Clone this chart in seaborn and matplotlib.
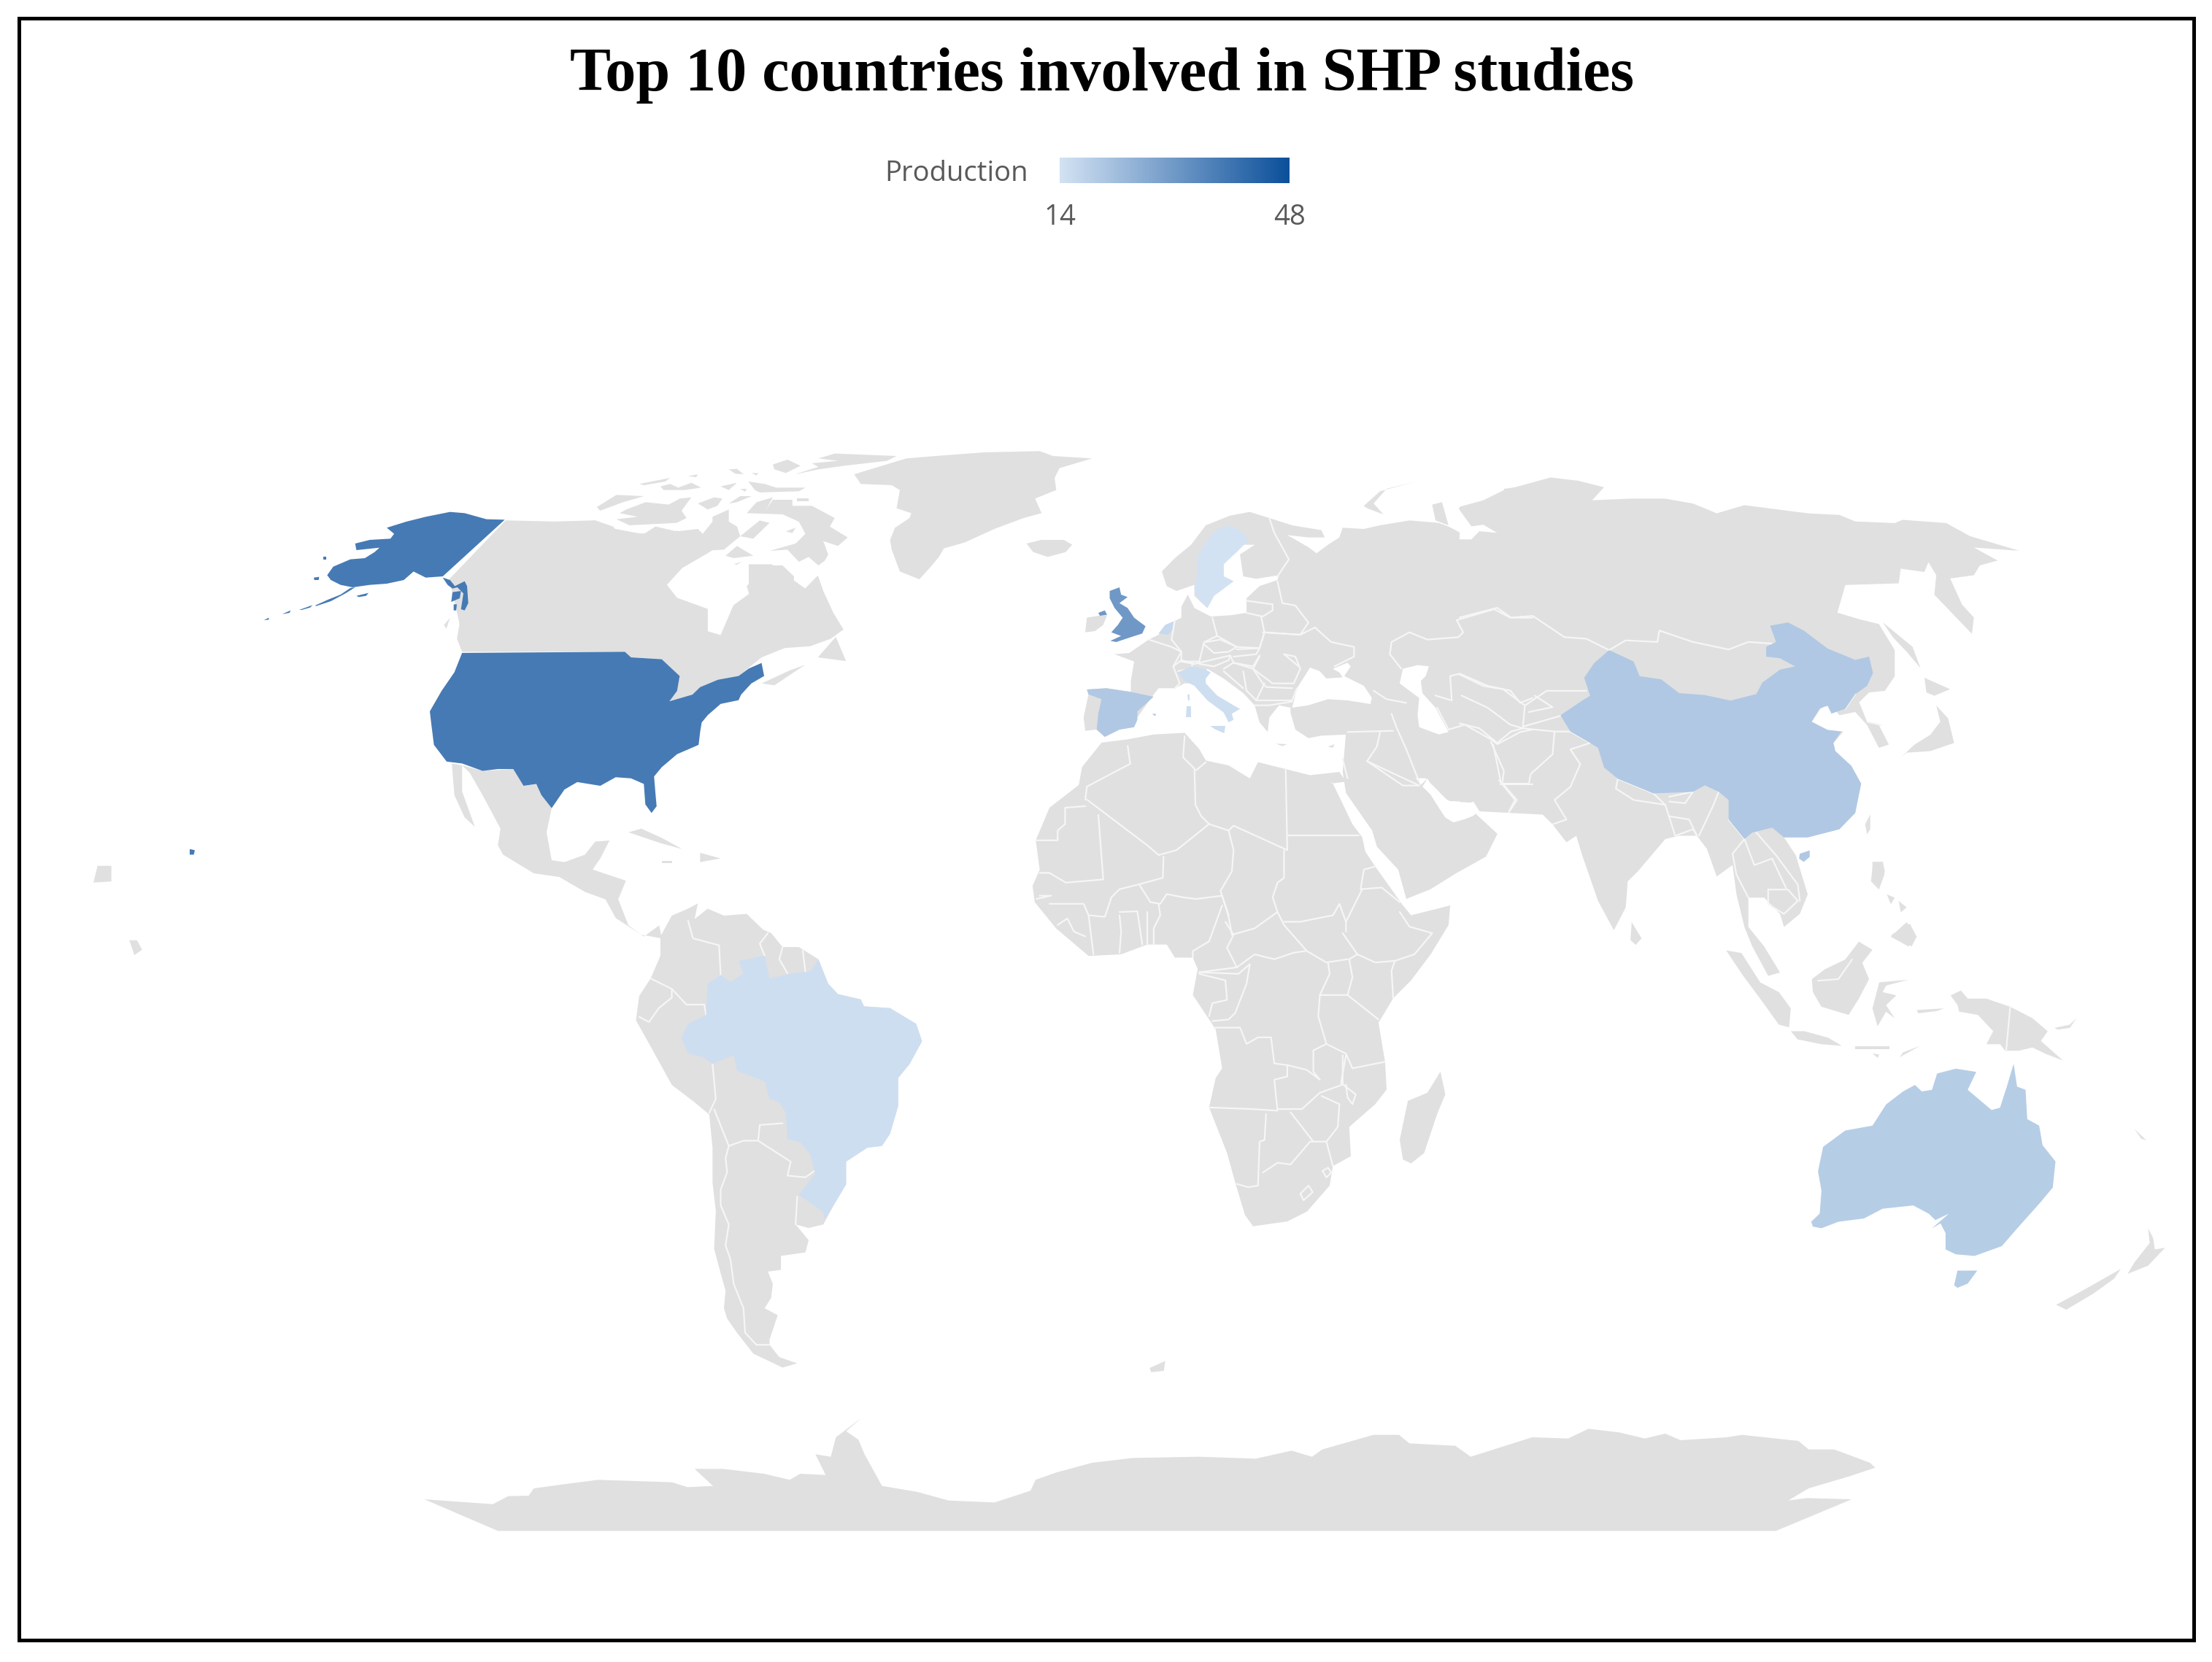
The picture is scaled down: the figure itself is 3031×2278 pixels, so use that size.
import numpy as np
import matplotlib
matplotlib.use("Agg")
import matplotlib.pyplot as plt
from matplotlib.colors import LinearSegmentedColormap, Normalize
from matplotlib.patches import Rectangle
import seaborn as sns

W, H = 3031, 2278
FR = {
    "O": (0, 0, 1568 / 3031, 1568 / 3031),
    "Z2": (100, 600, 1568 / 1100, 1568 / 800),
    "Z3": (1400, 650, 1568 / 700, 3.0),
    "Z4": (2000, 650, 1568 / 850, 1568 / 700),
    "Z5": (800, 1200, 1568 / 700, 1568 / 750),
    "Z6": (1380, 1000, 1568 / 700, 1568 / 700),
    "Z7": (2300, 1150, 1568 / 731, 1568 / 700),
    "Z8": (500, 1900, 1568 / 2200, 3.0),
    "ZA": (800, 600, 1568 / 700, 3.0),
    "ZB": (350, 680, 3.0, 3.0),
}

TITLE = "Top 10 countries involved in SHP studies"
LEGEND_TITLE = "Production"
VMIN, VMAX = 14, 48
PRODUCTION = {"USA": 38, "UK": 31, "Spain": 20, "China": 20, "Australia": 19,
              "Netherlands": 16, "Brazil": 15, "Italy": 15, "Sweden": 14}
LAND_COLOR = "#e0e0e0"

# ---------- land outlines ----------
CANADA = [(845,222),(940,225),(1020,222),(1060,245),(1110,258),(1180,250),(1250,270),(1290,265),(1240,310),(1190,350),(1160,395),(1180,430),(1240,460),(1240,520),(1265,530),(1290,450),(1320,420),(1320,340),(1365,340),(1400,375),(1430,405),(1455,370),(1465,410),(1485,470),(1505,515),(1480,540),(1440,560),(1390,565),(1345,590),(1300,640),(1260,650),(1210,690),(1165,708),(1180,680),(1185,640),(1150,595),(1090,590),(1078,575),(760,575),(750,540),(755,500),(735,380)]
CANADA_NORTH = [(0,345),(35,340),(90,365),(100,385),(185,395),(220,365),(285,385),(350,375),(365,395),(395,345),(395,325),(445,295),(445,345),(470,365),(480,405),(430,460),(300,470),(0,470)]
QUEBEC = [(540,525),(610,525),(645,570),(645,615),(680,620),(720,575),(740,655),(510,655),(500,610),(530,570)]
GREENLAND = [(830,150),(990,85),(1080,75),(1230,60),(1400,55),(1440,75),(1560,85),(1460,125),(1445,165),(1450,215),(1385,250),(1405,310),(1350,330),(1260,375),(1170,430),(1105,455),(1090,490),(1065,530),(1030,582),(970,550),(945,460),(940,420),(955,370),(1000,330),(1005,310),(960,290),(970,215),(945,195),(850,190)]
ARCTIC_ZA = [
    [(590,180),(650,150),(720,130),(800,115),(930,95),(960,75),(770,65),(720,85),(780,95),(700,105),(720,120),(660,145),(620,165)],
    [(580,110),(625,90),(665,115),(620,145),(585,130)],
    [(445,130),(470,128),(490,150),(465,148)],
    [(515,145),(535,145),(530,155)],
    [(320,158),(350,150),(345,162)],
    [(170,190),(265,165),(250,180),(185,195)],
    [(235,200),(265,190),(290,205),(330,185),(360,205),(310,215),(245,215)],
    [(420,200),(470,185),(445,215)],
    [(480,210),(500,210),(495,222)],
    [(505,180),(555,190),(590,205),(680,205),(660,220),(540,225),(525,215)],
    [(40,285),(100,235),(185,240),(120,265),(50,300)],
    [(130,295),(190,265),(260,275),(295,250),(330,245),(300,300),(315,330),(285,350),(140,360),(100,335),(165,325),(110,310)],
    [(350,270),(400,245),(425,250),(410,280),(380,295)],
    [(445,270),(480,240),(515,240),(470,265)],
    [(500,310),(530,265),(580,245),(560,295),(580,255),(640,255),(640,280),(700,280),(770,330),(755,365),(810,410),(780,445),(735,425),(750,480),(740,505),(720,525),(690,490),(660,510),(625,460),(570,465),(650,435),(680,395),(660,345),(610,315)],
    [(655,250),(690,250),(690,262),(655,262)],
    [(480,405),(540,340),(570,350),(520,415)],
    [(620,385),(650,370),(640,392)],
    [(435,485),(470,445),(520,485),(460,495)],
    [(460,520),(485,510),(470,522)],
]
OTHER_Z2 = [
    [(1345,660),(1400,625),(1430,610),(1370,665)],
    [(1455,590),(1490,535),(1510,600)],
    [(40,1195),(48,1150),(75,1150),(75,1192)],
    [(110,1350),(125,1350),(135,1375),(120,1390)],
    [(1085,1060),(1110,1050),(1150,1075),(1190,1105),(1150,1090)],
    [(1225,1115),(1265,1130),(1225,1140)],
    [(1150,1136),(1170,1136),(1170,1143),(1150,1143)],
]
VANCOUVER = [(775,530),(800,500),(785,545)]
KERGUELEN = [(815,970),(826,965),(825,972),(816,973)]
ICELAND = [(15,285),(60,270),(130,270),(155,290),(135,320),(80,340),(35,320)]
BAJA = [(740,875),(760,880),(760,950),(785,1045),(765,1020),(745,960)]
MEXICO_CA = [(760,880),(800,895),(860,890),(880,935),(905,930),(935,995),(925,1060),(935,1135),(960,1140),(1000,1120),(1020,1085),(1048,1082),(1030,1130),(1015,1160),(1080,1190),(1065,1240),(1085,1310),(1115,1340),(1145,1310),(1150,1345),(1110,1335),(1060,1290),(1040,1240),(1000,1220),(950,1180),(900,1170),(840,1120),(830,1095),(835,1050),(800,960),(775,900)]
SOUTH_AMERICA = [(235,175),(270,115),(320,95),(350,80),(340,125),(380,95),(430,115),(500,110),(550,155),(575,165),(610,205),(660,205),(720,240),(750,310),(780,340),(850,355),(860,375),(940,380),(1020,425),(1038,475),(1000,540),(965,580),(965,660),(940,740),(915,775),(870,780),(805,820),(805,885),(770,940),(735,1000),(690,1010),(650,1000),(690,1045),(680,1080),(605,1090),(605,1130),(565,1135),(580,1170),(575,1210),(555,1240),(595,1260),(570,1330),(570,1345),(600,1380),(655,1398),(610,1410),(520,1370),(470,1310),(440,1270),(430,1240),(435,1190),(420,1140),(400,1070),(405,960),(395,880),(395,780),(385,685),(340,650),(270,600),(205,490),(160,415),(170,345),(205,295),(235,230)]
AFRICA = [(290,40),(370,30),(450,15),(545,10),(590,60),(610,95),(680,110),(745,150),(770,100),(850,120),(930,140),(1020,130),(1040,160),(1000,165),(1060,290),(1090,330),(1100,375),(1130,420),(1180,490),(1215,540),(1240,570),(1360,540),(1355,600),(1300,690),(1240,770),(1185,825),(1140,900),(1160,1020),(1165,1105),(1130,1150),(1050,1220),(1055,1310),(1000,1340),(990,1400),(920,1480),(860,1510),(755,1525),(730,1490),(700,1390),(675,1300),(620,1160),(640,1070),(660,1040),(640,920),(570,815),(585,735),(570,700),(515,700),(490,660),(430,660),(350,690),(250,695),(150,610),(85,530),(78,480),(100,430),(88,340),(130,240),(220,170),(230,115)]
MADAGASCAR = [(1330,1050),(1345,1120),(1320,1180),(1280,1300),(1240,1332),(1215,1320),(1205,1260),(1230,1140),(1290,1115)]
ARABIA = [(1040,10),(1030,130),(1040,195),(1120,310),(1135,360),(1200,430),(1225,520),(1300,490),(1380,440),(1470,390),(1505,320),(1440,260),(1430,230),(1360,225),(1320,200),(1290,150),(1270,170),(1240,130),(1200,40),(1190,0)]
EUROPE_MAIN = [(430,400),(470,345),(520,290),(565,210),(640,170),(700,155),(760,180),(830,210),(920,230),(930,260),(880,260),(815,250),(880,300),(905,325),(940,290),(975,260),(985,220),(1050,225),(1100,210),(1190,190),(1280,200),(1310,215),(1360,250),(1340,265),(1380,260),(1400,220),(1460,240),(1490,210),(1568,210),(1568,1395),(1500,1390),(1410,1380),(1390,1345),(1310,1345),(1240,1250),(1200,1250),(1060,1200),(995,1170),(1000,1070),(920,1075),(880,1085),(840,1050),(825,980),(825,960),(790,950),(760,1000),(755,1060),(730,1020),(715,950),(680,900),(620,840),(570,800),(540,860),(500,860),(470,880),(420,880),(400,915),(355,1000),(345,1040),(300,1050),(255,1080),(230,1050),(195,1055),(190,1000),(205,905),(200,885),(260,880),(335,895),(335,850),(345,770),(285,740),(330,735),(390,680),(420,660),(460,610),(490,590),(490,545),(510,495),(530,550),(580,585),(640,580),(690,570),(690,510),(730,460),(785,435),(790,415),(720,430),(680,420),(670,330),(715,290),(670,290),(620,370),(620,420),(650,440),(590,500),(570,550),(530,500),(530,455),(475,480),(445,460)]
EUROPE_BITS = [
    [(1260,125),(1290,115),(1310,210),(1270,190)],
    [(1340,140),(1400,130),(1440,170),(1460,240),(1400,210),(1370,170)],
    [(1480,60),(1568,45),(1568,260),(1460,240),(1450,150),(1480,110)],
    [(1050,130),(1100,70),(1210,30),(1120,60),(1080,120),(1110,165),(1060,140)],
    [(195,650),(200,590),(235,582),(262,580),(250,620),(225,645)],
    [(940,1120),(960,1110),(955,1125)],
    [(780,1108),(815,1110),(800,1118)],
]
ASIA_MAIN = [(0,100),(60,80),(110,50),(230,10),(300,20),(365,40),(335,80),(430,75),(520,75),(590,90),(650,120),(720,95),(880,120),(960,125),(1000,145),(1100,150),(1120,140),(1230,150),(1290,190),(1415,235),(1300,225),(1360,265),(1315,280),(1300,310),(1240,320),(1270,400),(1300,440),(1295,490),(1200,370),(1205,310),(1185,270),(1175,300),(1115,290),(1110,335),(975,340),(955,425),(1010,445),(1060,460),(1100,540),(1100,620),(1075,665),(1035,670),(1010,700),(1030,760),(1060,770),(1085,830),(1060,840),(1030,770),(1000,730),(960,740),(940,710),(915,715),(890,760),(930,785),(970,790),(945,825),(945,850),(990,895),(1015,950),(1000,1040),(960,1090),(880,1115),(820,1115),(850,1170),(880,1290),(860,1350),(820,1390),(810,1350),(770,1300),(730,1300),(730,1390),(770,1450),(810,1530),(780,1540),(740,1450),(720,1390),(700,1290),(690,1200),(650,1235),(625,1150),(600,1110),(555,1110),(520,1120),(450,1220),(425,1250),(420,1330),(390,1400),(350,1310),(310,1170),(295,1110),(270,1130),(235,1075),(210,1045),(130,1040),(50,1035),(35,1005),(0,1020)]
ASIA_ISLANDS = [
    [(1025,1075),(1038,1045),(1038,1090),(1030,1105)],
    [(1070,455),(1145,530),(1165,595),(1130,545),(1095,500)],
    [(1175,625),(1240,660),(1200,680),(1180,670)],
    [(1205,710),(1235,750),(1250,825),(1190,850),(1130,855),(1115,870),(1140,905),(1115,870),(1150,830),(1190,800),(1215,760)],
    [(435,1375),(460,1425),(445,1445),(432,1430)],
    [(1045,1195),(1070,1190),(1075,1220),(1060,1275),(1040,1250)],
    [(1090,1420),(1130,1375),(1155,1420),(1135,1450)],
    [(1080,1290),(1100,1300),(1090,1320)],
    [(1110,1310),(1130,1330),(1115,1345)],
]
SE_ASIA_ISLANDS = [
    [(140,342),(185,350),(240,440),(295,470),(330,520),(325,578),(295,570),(240,490),(190,420)],
    [(392,430),(430,400),(490,370),(530,315),(570,340),(540,380),(560,430),(530,490),(500,540),(420,515),(395,470)],
    [(330,590),(370,590),(440,610),(480,635),(420,630),(350,615)],
    [(590,440),(675,432),(610,450),(600,470),(640,480),(610,510),(635,550),(610,530),(585,575),(570,520)],
    [(800,480),(830,465),(850,490),(905,490),(975,515),(1040,550),(1085,590),(1065,620),(1130,680),(1080,660),(1040,640),(1000,650),(960,650),(945,630),(905,630),(925,590),(880,540),(825,530),(820,510)],
    [(650,670),(710,635),(660,655)],
    [(520,636),(620,636),(620,644),(520,644)],
    [(570,658),(590,662),(585,672)],
    [(1105,580),(1150,570),(1170,550),(1150,580),(1115,585)],
    [(1380,1195),(1395,1225),(1400,1260),(1430,1255),(1380,1310),(1320,1335),(1340,1300),(1385,1240)],
    [(1110,1430),(1190,1385),(1300,1320),(1280,1350),(1220,1395),(1140,1445)],
    [(1340,890),(1375,925),(1360,920)],
    [(570,70),(600,70),(605,110),(590,150),(570,125)],
    [(625,295),(680,260),(700,300),(685,330),(660,310)],
    [(700,525),(780,520),(760,528),(705,535)],
]
ANTARCTICA = [(58,465),(125,485),(140,452),(160,450),(165,420),(200,400),(228,385),(300,395),(315,415),(340,410),(322,340),(350,340),(390,360),(415,385),(425,360),(450,365),(440,280),(455,290),(460,210),(485,130),(470,185),(482,220),(488,280),(505,410),(540,435),(570,470),(615,478),(650,430),(655,385),(675,355),(710,315),(750,295),(815,290),(870,298),(905,265),(925,290),(935,260),(985,200),(1010,200),(1020,235),(1065,245),(1080,290),(1140,210),(1175,215),(1195,175),(1225,190),(1250,215),(1270,195),(1285,222),(1330,210),(1345,200),(1400,225),(1410,260),(1435,260),(1470,315),(1475,335),(1450,370),(1410,420),(1390,470),(1408,460),(1452,465),(1378,595),(130,595)]

# ---------- inland seas ----------
BLACK_SEA = [(830,960),(845,880),(885,795),(915,810),(935,840),(985,835),(975,815),(955,800),(1000,775),(1010,790),(990,830),(1050,870),(1075,920),(1070,945),(1000,930),(940,925),(880,950)]
CASPIAN = [(1160,860),(1170,800),(1215,785),(1250,790),(1240,830),(1225,850),(1230,900),(1270,960),(1310,1060),(1280,1070),(1220,1040),(1215,990),(1220,920),(1180,880)]
GULF = [(1290,150),(1320,200),(1360,220),(1430,225),(1450,250),(1430,265),(1405,275),(1370,285),(1345,270),(1325,240),(1300,200),(1275,175)]
RED_SEA = [(990,160),(1000,165),(1060,290),(1090,330),(1100,375),(1130,420),(1180,490),(1215,540),(1225,520),(1200,430),(1135,360),(1120,310),(1040,195)]
OB_GULF = [(0,110),(30,160),(60,155),(95,180),(50,175),(30,200),(0,200)]

# ---------- highlighted countries ----------
USA_MAIN = [(760,578),(1078,575),(1090,590),(1150,595),(1185,640),(1180,680),(1165,708),(1210,690),(1225,670),(1260,650),(1300,640),(1320,620),(1345,605),(1350,640),(1325,660),(1305,690),(1300,705),(1265,715),(1240,745),(1228,765),(1225,790),(1222,825),(1180,850),(1150,885),(1135,910),(1138,960),(1140,990),(1130,1008),(1118,985),(1115,930),(1090,915),(1060,912),(1030,935),(985,925),(960,945),(935,995),(915,960),(905,930),(880,935),(860,890),(830,890),(800,895),(760,875),(730,870),(705,825),(700,770),(697,735),(720,680),(745,630)]
ALASKA = [(1025,97),(770,330),(700,335),(650,310),(610,345),(540,360),(470,365),(400,375),(350,365),(310,345),(295,325),(320,290),(390,260),(450,255),(490,230),(510,212),(415,222),(410,195),(470,180),(555,175),(570,155),(540,130),(620,105),(700,85),(800,65),(860,70),(950,95)]
ALASKA_BITS = [
    [(245,450),(300,425),(350,405),(390,378),(410,375),(370,400),(310,432),(250,452)],
    [(180,468),(235,448),(225,458),(190,468)],
    [(110,485),(145,470),(140,480)],
    [(35,510),(55,500),(55,508)],
    [(530,355),(610,305),(615,315),(560,350)],
    [(415,410),(465,398),(455,410),(425,415)],
    [(240,335),(262,332),(260,345),(242,345)],
    [(278,250),(292,250),(292,262),(280,262)],
    [(770,335),(800,345),(820,370),(860,350),(870,370),(875,440),(860,470),(845,465),(855,400),(830,375),(810,380),(790,365)],
    [(810,395),(845,390),(840,420),(805,435)],
    [(815,445),(828,445),(825,470),(815,470)],
]
HAWAII = [(228,1105),(238,1108),(236,1120),(228,1120)]
GB = [(270,480),(300,465),(305,495),(325,505),(300,530),(325,550),(345,590),(380,625),(370,655),(335,670),(290,690),(272,685),(305,665),(275,650),(295,620),(310,590),(285,550),(270,510)]
N_IRELAND = [(235,570),(255,560),(262,578),(240,582)]
SPAIN = [(200,885),(260,880),(335,895),(405,915),(355,975),(355,1010),(345,1040),(300,1050),(255,1080),(230,1050),(235,985),(245,925),(205,905)]
BALEARIC = [(400,985),(412,985),(410,995)]
NETHERLANDS = [(420,655),(440,620),(465,605),(462,640),(450,660)]
ITALY = [(480,815),(520,790),(560,800),(580,815),(565,840),(565,860),(600,910),(650,950),(670,965),(645,985),(650,1010),(635,1020),(620,980),(570,930),(530,870),(500,850)]
SARDINIA = [(507,955),(520,955),(520,1000),(505,1000)]
CORSICA = [(508,905),(516,905),(516,930),(510,930)]
SICILY = [(578,1035),(625,1035),(622,1065),(595,1050)]
SWEDEN = [(600,225),(640,210),(680,240),(695,270),(690,280),(660,320),(620,370),(620,420),(650,440),(625,465),(590,500),(570,550),(545,520),(530,470),(540,400),(540,340),(565,280)]
CHINA = [(378,540),(440,575),(455,620),(510,630),(555,672),(620,678),(685,695),(750,675),(765,640),(810,600),(848,590),(810,565),(775,560),(775,530),(800,515),(785,465),(830,455),(870,480),(930,535),(1000,570),(1035,560),(1045,610),(1030,650),(1000,675),(975,720),(940,735),(930,710),(910,720),(890,760),(930,785),(965,790),(945,825),(950,850),(990,895),(1015,950),(1000,1040),(960,1090),(880,1115),(820,1115),(790,1085),(740,1100),(720,1120),(680,1060),(680,1000),(655,975),(620,955),(590,975),(490,980),(400,935),(365,900),(350,840),(330,825),(280,790),(255,740),(310,695),(330,680),(315,625),(340,580)]
HAINAN = [(860,1165),(885,1155),(885,1175),(870,1190),(858,1180)]
BRAZIL = [(720,240),(750,310),(780,340),(850,355),(860,375),(940,380),(1020,425),(1038,475),(1000,540),(965,580),(965,660),(940,740),(915,775),(870,780),(805,820),(805,885),(770,940),(740,985),(735,965),(660,915),(710,855),(695,800),(665,765),(625,755),(620,680),(600,650),(570,640),(555,590),(470,560),(460,515),(395,540),(365,520),(320,510),(300,465),(320,425),(375,400),(380,310),(420,285),(450,305),(490,280),(475,245),(555,230),(570,295),(640,280),(695,275)]
AUSTRALIA = [(985,690),(995,760),(1020,770),(1025,860),(1060,880),(1070,940),(1108,990),(1100,1070),(1060,1120),(1000,1190),(950,1250),(870,1280),(815,1275),(785,1260),(785,1210),(770,1180),(745,1195),(795,1150),(755,1170),(735,1150),(690,1125),(600,1135),(545,1165),(470,1175),(420,1195),(395,1190),(390,1175),(415,1150),(420,1080),(410,1020),(425,945),(490,895),(570,880),(610,815),(660,775),(695,755),(715,775),(745,770),(760,720),(815,705),(875,715),(850,770),(920,832),(945,825),(965,760)]
TASMANIA = [(820,1325),(878,1325),(850,1365),(820,1378),(810,1370)]

COUNTRY_SHAPES = {
    "USA": [("Z2", USA_MAIN), ("ZB", ALASKA), ("Z2", HAWAII)] + [("ZB", p) for p in ALASKA_BITS],
    "UK": [("Z3", GB), ("Z3", N_IRELAND)],
    "Spain": [("Z3", SPAIN), ("Z3", BALEARIC)],
    "Netherlands": [("Z3", NETHERLANDS)],
    "Italy": [("Z3", ITALY), ("Z3", SARDINIA), ("Z3", CORSICA), ("Z3", SICILY)],
    "Sweden": [("Z3", SWEDEN)],
    "China": [("Z4", CHINA), ("Z4", HAINAN)],
    "Brazil": [("Z5", BRAZIL)],
    "Australia": [("Z7", AUSTRALIA), ("Z7", TASMANIA)],
}

# ---------- internal borders ----------
BORDERS_Z5 = [
    [(320,130),(335,180),(415,200),(420,285)], [(555,230),(540,195),(565,165)],
    [(610,205),(600,240),(625,280)], [(672,215),(680,275)],
    [(205,295),(270,325),(315,370),(370,370),(375,400)],
    [(270,325),(270,350),(230,380),(200,420),(170,405)],
    [(395,540),(405,640),(385,680)], [(400,670),(445,775)],
    [(445,775),(490,760),(535,760),(540,715),(610,710)],
    [(535,760),(635,820),(625,860),(680,865),(710,845)],
    [(445,775),(435,810),(440,850),(420,900),(420,945),(445,1000),(435,1060),(450,1100),(460,1170),(490,1240),(495,1310),(530,1345),(570,1345)],
    [(655,920),(650,1000)],
]
BORDERS_Z6 = [
    [(370,50),(378,105),(330,130),(245,175),(240,215)],
    [(240,235),(178,240),(178,290),(155,310),(155,340),(88,340)],
    [(245,215),(430,355),(465,385)],
    [(545,20),(540,85),(575,120),(578,230),(595,265),(620,290)], [(610,100),(580,125)],
    [(465,385),(520,370),(620,290)], [(620,290),(680,310),(695,295),(860,370),(855,120)],
    [(860,325),(1080,325)], [(280,262),(295,460),(180,470),(130,440),(100,440)],
    [(480,390),(478,455),(405,475),(345,490),(320,515),(300,575),(250,570),(235,535),(130,535)],
    [(405,475),(440,530),(470,535),(490,505),(540,515),(580,520),(660,510),(680,570)],
    [(680,310),(695,370),(690,435),(655,495),(680,575),(690,630),(760,610),(830,560),(815,515),(830,470),(850,455),(850,370)],
    [(660,540),(620,650),(570,680),(570,700)], [(670,590),(695,630),(675,670),(705,730),(590,745)],
    [(705,730),(760,690),(820,705),(880,685),(915,680)],
    [(830,560),(850,600),(920,680),(980,715),(1045,705)],
    [(850,590),(900,590),(1000,570),(1020,535),(1040,590),(1040,620)],
    [(1030,625),(1075,690),(1050,705)],
    [(1075,690),(1130,715),(1190,710),(1250,690),(1305,625),(1235,605),(1205,560)],
    [(1130,420),(1095,430),(1085,490),(1150,485),(1205,530)], [(1090,490),(1040,590)],
    [(1190,710),(1180,740),(1185,825)], [(1050,705),(1060,760),(1045,815),(1140,890)],
    [(985,715),(990,750),(960,815),(1045,815)],
    [(960,815),(955,880),(980,965),(1040,995),(1060,1040),(1160,1020)],
    [(980,965),(940,985),(940,1050),(960,1075),(920,1045),(860,1030),(820,1025),(810,945),(770,945),(735,965),(715,915),(635,915)],
    [(590,745),(710,750),(745,720),(735,780),(700,870),(680,890),(630,895)],
    [(590,750),(670,770),(675,830),(630,840),(620,880)],
    [(620,1160),(750,1165),(830,1170),(820,1075),(860,1065),(860,1030)],
    [(830,1165),(905,1165),(960,1115),(1030,1090),(1030,1000)],
    [(795,1180),(790,1260),(775,1265),(770,1400),(740,1405),(705,1395)],
    [(785,1360),(830,1330),(870,1335),(930,1265),(980,1265)], [(870,1175),(940,1265)],
    [(965,1125),(1020,1150),(1015,1220),(980,1265),(1000,1340)],
    [(1040,1000),(1025,1085),(1070,1120),(1060,1150),(1045,1130),(1040,1090)],
    [(900,1425),(925,1400),(938,1420),(910,1445),(900,1425)],
    [(968,1355),(985,1345),(995,1360),(980,1375),(968,1355)],
    [(250,570),(265,690)], [(345,570),(350,620),(345,685)], [(400,560),(415,660)],
    [(345,560),(400,558)], [(430,560),(430,660)], [(450,660),(450,610),(470,570),(465,535)],
    [(155,600),(185,580),(205,620),(240,635)], [(100,510),(135,510),(90,520)],
]
BORDERS_Z3 = [
    [(760,180),(775,240),(820,350),(785,420)], [(785,440),(800,530)], [(690,520),(770,535)],
    [(690,570),(740,585),(770,560),(770,535)], [(800,530),(840,540),(880,610),(855,660),(740,650)],
    [(585,590),(600,665),(660,710),(730,715),(745,650),(735,585)],
    [(470,600),(460,680),(490,730),(490,770),(545,770),(560,690),(600,665)],
    [(565,690),(610,680),(660,710),(635,730),(590,735),(560,700)],
    [(660,720),(730,715),(720,740),(650,750)], [(490,770),(530,780),(640,745),(635,765),(590,790),(545,780)],
    [(640,745),(650,775),(710,790),(730,745)], [(730,750),(710,800),(770,860),(835,860),(855,800),(840,750),(805,740)],
    [(805,740),(850,790)], [(730,715),(745,650),(855,660),(900,630),(950,690),(1020,710),(1020,750),(960,790)],
    [(390,680),(460,710),(490,730),(465,790),(485,860),(470,880)], [(465,790),(490,765),(525,775),(520,800),(480,810)],
    [(620,800),(650,775),(710,800),(740,860),(750,875),(830,880)], [(620,810),(680,880)],
    [(680,810),(690,890),(720,930)], [(745,860),(720,930),(830,930),(845,880)], [(715,950),(760,950),(830,935)],
    [(1080,890),(1120,925),(1180,940)], [(1000,1060),(1140,1055)], [(1135,985),(1150,1040),(1180,1130),(1220,1265)],
    [(1100,1060),(1090,1120),(1060,1180),(1170,1280),(1220,1280)],
    [(1165,800),(1130,740),(1135,690),(1190,650),(1245,680),(1340,670),(1355,650),(1335,600),(1450,555),(1500,590),(1568,590)],
    [(1270,910),(1320,930),(1315,830),(1345,820),(1430,870),(1500,890),(1530,940),(1568,920)],
    [(1350,910),(1430,960),(1500,1030),(1540,1045)], [(1275,960),(1310,1050),(1360,1030),(1440,1090),(1460,1110),(1530,1060),(1568,1050)],
    [(1440,1100),(1480,1220),(1475,1270),(1520,1340),(1495,1390)], [(1470,1275),(1568,1275)], [(985,1170),(1000,1250)],
    [(1060,1180),(1220,1280)], [(250,900),(245,1050)],
]
BORDERS_Z4 = [
    [(378,540),(420,510),(500,515),(505,480),(590,515),(680,538),(730,515),(790,520)],
    [(0,440),(95,410),(130,440),(185,435),(265,500),(320,505),(378,540)],
    [(0,615),(60,650),(110,660),(165,710),(220,665),(320,665)], [(175,730),(235,715),(190,680)],
    [(165,710),(160,775),(260,740)],
    [(0,765),(50,780),(95,825),(130,790),(160,780),(240,790),(235,860),(180,920),(175,950),(105,950),(85,830)],
    [(100,940),(140,1000),(125,1035)],
    [(240,790),(280,790),(330,825),(280,845),(305,890),(280,960),(240,1000),(270,1060),(235,1075)],
    [(400,935),(490,980),(520,1015),(440,1000),(395,965),(400,935)], [(530,990),(590,975),(570,1010),(530,1005)],
    [(520,1015),(545,1110),(590,1090),(600,1110),(580,1060),(530,1050)], [(655,975),(640,1020),(605,1110)],
    [(680,1060),(720,1120),(690,1165),(700,1230),(730,1300)], [(720,1120),(745,1200),(790,1180),(825,1270)],
    [(750,1100),(800,1170),(855,1260),(860,1310)], [(780,1275),(830,1275),(855,1310),(820,1350),(780,1320),(780,1275)],
    [(1000,675),(975,720)], [(1030,760),(1065,770)],
]
BORDERS_Z7 = [
    [(975,515),(963,650)], [(410,435),(470,430),(510,370)],
]


def to_px(frame, pts):
    x0, y0, sx, sy = FR[frame]
    arr = np.asarray(pts, dtype=float)
    return x0 + arr[:, 0] / sx, y0 + arr[:, 1] / sy


sns.set_theme(style="white")
plt.rcParams["font.family"] = ["Open Sans", "DejaVu Sans"]

fig = plt.figure(figsize=(W / 100, H / 100), dpi=100, facecolor="white")
ax = fig.add_axes([0, 0, 1, 1])
ax.set_xlim(0, W)
ax.set_ylim(H, 0)
ax.axis("off")

LAND = ([("Z2", CANADA), ("ZA", CANADA_NORTH), ("ZA", QUEBEC), ("Z2", BAJA), ("Z2", MEXICO_CA), ("ZA", GREENLAND),
         ("O", KERGUELEN), ("ZB", VANCOUVER), ("Z3", ICELAND), ("Z5", SOUTH_AMERICA), ("Z6", AFRICA),
         ("Z6", MADAGASCAR), ("Z6", ARABIA), ("Z3", EUROPE_MAIN), ("Z4", ASIA_MAIN), ("Z8", ANTARCTICA)]
        + [("ZA", p) for p in ARCTIC_ZA] + [("Z2", p) for p in OTHER_Z2] + [("Z3", p) for p in EUROPE_BITS]
        + [("Z4", p) for p in ASIA_ISLANDS] + [("Z7", p) for p in SE_ASIA_ISLANDS])
for frame, pts in LAND:
    xs, ys = to_px(frame, pts)
    ax.fill(xs, ys, color=LAND_COLOR, lw=0, zorder=1)

for frame, pts in [("Z3", BLACK_SEA), ("Z3", CASPIAN), ("Z6", GULF), ("Z6", RED_SEA), ("Z4", OB_GULF)]:
    xs, ys = to_px(frame, pts)
    ax.fill(xs, ys, color="white", lw=0, zorder=2)

for frame, lines in [("Z5", BORDERS_Z5), ("Z6", BORDERS_Z6), ("Z3", BORDERS_Z3), ("Z4", BORDERS_Z4), ("Z7", BORDERS_Z7)]:
    for pts in lines:
        xs, ys = to_px(frame, pts)
        ax.plot(xs, ys, color="#f6f6f6", lw=1.6, zorder=3, solid_joinstyle="round")

cmap = LinearSegmentedColormap.from_list("production", ["#d3e2f3", "#0b4f9a"])
norm = Normalize(VMIN, VMAX)
for name, shapes in COUNTRY_SHAPES.items():
    for frame, pts in shapes:
        xs, ys = to_px(frame, pts)
        ax.fill(xs, ys, facecolor=cmap(norm(PRODUCTION[name])), edgecolor="none", lw=0, zorder=4)

ax.add_patch(Rectangle((26, 24.5), 2980, 2223.5, fill=False, edgecolor="black", lw=3.6, zorder=6))

ax.text(1510, 104, TITLE, family=["Liberation Serif", "DejaVu Serif"], weight="bold",
        fontsize=60.5, color="black", ha="center", va="center")
ax.text(1409, 238, LEGEND_TITLE, fontsize=27.5, color="#595959", ha="right", va="center")
ax.text(1452, 298, str(VMIN), fontsize=27.5, color="#595959", ha="center", va="center")
ax.text(1767, 298, str(VMAX), fontsize=27.5, color="#595959", ha="center", va="center")

bar_ax = fig.add_axes([1452 / W, 1 - 251 / H, 315 / W, 35 / H])
sns.heatmap(np.linspace(VMIN, VMAX, 256).reshape(1, -1), ax=bar_ax, cmap=cmap, vmin=VMIN, vmax=VMAX,
            cbar=False, xticklabels=False, yticklabels=False, rasterized=True)

fig.savefig("out.png", dpi=100, facecolor="white")
